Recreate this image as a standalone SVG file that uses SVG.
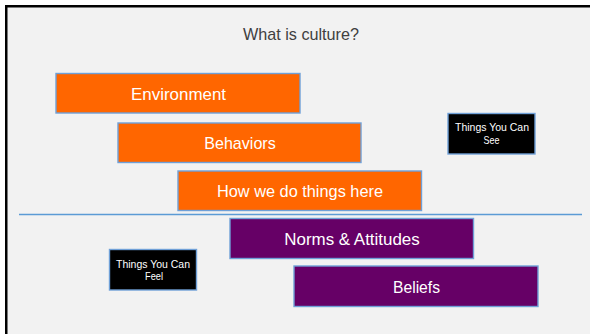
<svg xmlns="http://www.w3.org/2000/svg" width="590" height="334" viewBox="0 0 590 334">
  <style>
    .box { stroke: #6fa0d8; stroke-width: 1.4; }
    .orange { fill: #ff6600; }
    .purple { fill: #660066; }
    .tag { fill: #000000; }
    .label { font-family: "Liberation Sans", Arial, sans-serif; font-size: 17px; fill: #ffffff; text-anchor: middle; }
    .small { font-family: "Liberation Sans", Arial, sans-serif; font-size: 10.5px; fill: #ffffff; text-anchor: middle; }
    .title { font-family: "Liberation Sans", Arial, sans-serif; font-size: 17px; fill: #404040; text-anchor: middle; }
  </style>

  <!-- slide background and frame -->
  <rect x="0" y="0" width="590" height="334" fill="#ffffff"/>
  <rect x="6.25" y="6.25" width="600" height="340" fill="#f2f2f2" stroke="#000000" stroke-width="2.5"/>

  <text class="title" x="301" y="39.5" textLength="116" lengthAdjust="spacingAndGlyphs">What is culture?</text>

  <!-- divider between visible and felt layers -->
  <g id="connectors">
    <line x1="19" y1="214.5" x2="582" y2="214.5" stroke="#5b9bd5" stroke-width="1.6"/>
  </g>

  <g id="environment">
    <rect class="box orange" x="56" y="73.5" width="244" height="39.5"/>
    <text class="label" x="178.5" y="99.5" textLength="95" lengthAdjust="spacingAndGlyphs">Environment</text>
  </g>

  <g id="behaviors">
    <rect class="box orange" x="118" y="123" width="243" height="39.5"/>
    <text class="label" x="240" y="149" textLength="71.5" lengthAdjust="spacingAndGlyphs">Behaviors</text>
  </g>

  <g id="how-we-do-things">
    <rect class="box orange" x="178" y="171" width="243.5" height="39.5"/>
    <text class="label" x="300" y="197" textLength="166" lengthAdjust="spacingAndGlyphs">How we do things here</text>
  </g>

  <g id="things-you-can-see">
    <rect class="box tag" x="448" y="113.5" width="87" height="40.5"/>
    <text class="small" x="492" y="131" textLength="74" lengthAdjust="spacingAndGlyphs">Things You Can</text>
    <text class="small" x="491.5" y="143.8" textLength="16" lengthAdjust="spacingAndGlyphs">See</text>
  </g>

  <g id="norms-attitudes">
    <rect class="box purple" x="230" y="218.5" width="243.5" height="40"/>
    <text class="label" x="352" y="245" textLength="135.5" lengthAdjust="spacingAndGlyphs">Norms &amp; Attitudes</text>
  </g>

  <g id="beliefs">
    <rect class="box purple" x="294" y="266" width="244" height="40.5"/>
    <text class="label" x="416.5" y="292.5" textLength="47" lengthAdjust="spacingAndGlyphs">Beliefs</text>
  </g>

  <g id="things-you-can-feel">
    <rect class="box tag" x="109.5" y="249.5" width="87" height="40.5"/>
    <text class="small" x="153" y="267.5" textLength="74" lengthAdjust="spacingAndGlyphs">Things You Can</text>
    <text class="small" x="154" y="280.3" textLength="18" lengthAdjust="spacingAndGlyphs">Feel</text>
  </g>
</svg>
